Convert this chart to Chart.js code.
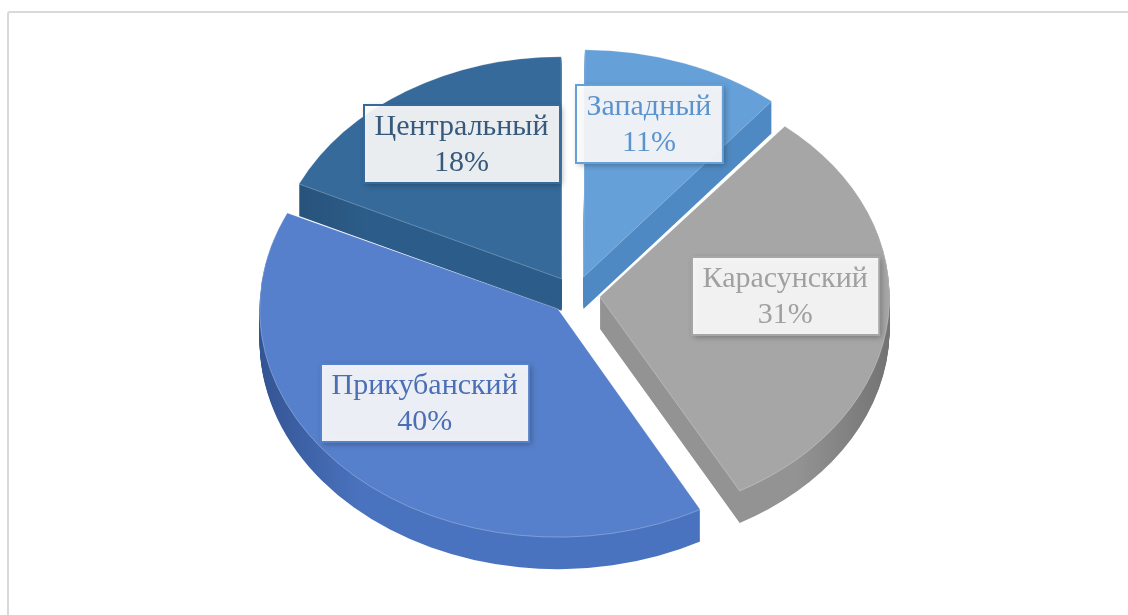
<!DOCTYPE html>
<html lang="ru">
<head>
  <meta charset="UTF-8">
  <title>Районы</title>
  <script src="https://cdn.jsdelivr.net/npm/chart.js"></script>
  <style>
    html, body {
      margin: 0;
      padding: 0;
      background: #fff;
      overflow: hidden;
    }
    .frame {
      position: absolute;
      left: 7px;
      top: 11px;
      width: 1200px;
      height: 700px;
      border: 2px solid #d9d9d9;
      border-radius: 3px;
    }
    .wrap {
      position: absolute;
      left: 0;
      top: 0;
      width: 1128px;
      height: 615px;
    }
  </style>
</head>
<body>
  <div class="frame"></div>
  <div class="wrap"><canvas id="pie"></canvas></div>

  <script>
    const regions = ['Западный', 'Карасунский', 'Прикубанский', 'Центральный'];
    const shares = [11, 31, 40, 18];

    const topColors = ['#65a0d8', '#a6a6a6', '#5680cb', '#356a9b'];
    const sideColors = ['#4f89c3', '#939393', '#4a73bf', '#2c5c89'];
    const edgeColors = ['#3a6fa6', '#666666', '#2d4b86', '#23496d'];
    const textColors = ['#5b93cf', '#a0a0a0', '#4a6fb6', '#37597b'];

    // disc geometry on screen
    const TILT = 0.765;
    const DEPTH = 32;
    const CENTER_Y = 295;
    const LABEL_RADIUS = 0.64;
    const LABEL_LIFT = 14;

    // how far Chart.js pushes an exploded arc out (same formula as ArcElement.draw)
    function explodeShift(offset, circumference) {
      return (offset || 0) / 4 * (2 - Math.sin(Math.min(Math.PI, circumference)));
    }

    function wallGradient(ctx, arc, i) {
      const r = arc.outerRadius + 40;
      const g = ctx.createLinearGradient(arc.x - r, 0, arc.x + r, 0);
      g.addColorStop(0, edgeColors[i]);
      g.addColorStop(0.2, sideColors[i]);
      g.addColorStop(0.8, sideColors[i]);
      g.addColorStop(1, edgeColors[i]);
      return g;
    }

    function drawLabels(chart) {
      const ctx = chart.ctx;
      const arcs = chart.getDatasetMeta(0).data;
      const total = shares.reduce((a, b) => a + b, 0);
      ctx.save();
      ctx.font = '30px "Liberation Serif", "Times New Roman", serif';
      ctx.textAlign = 'center';
      ctx.textBaseline = 'middle';
      arcs.forEach((arc, i) => {
        const p = arc.getProps(['x', 'y', 'startAngle', 'endAngle', 'outerRadius', 'circumference']);
        const mid = (p.startAngle + p.endAngle) / 2;
        const dist = p.outerRadius * LABEL_RADIUS + explodeShift(arc.options.offset, p.circumference);
        const lx = p.x + Math.cos(mid) * dist;
        const ly = CENTER_Y + TILT * Math.sin(mid) * dist - LABEL_LIFT;
        const lines = [regions[i], Math.round(shares[i] / total * 100) + '%'];
        const w = Math.max(...lines.map(t => ctx.measureText(t).width)) + 22;
        const h = 78;
        const bx = Math.round(lx - w / 2);
        const by = Math.round(ly - h / 2);

        ctx.save();
        ctx.shadowColor = 'rgba(0, 0, 0, 0.35)';
        ctx.shadowBlur = 6;
        ctx.shadowOffsetX = 2;
        ctx.shadowOffsetY = 2;
        ctx.fillStyle = 'rgba(255, 255, 255, 0.9)';
        ctx.fillRect(bx, by, w, h);
        ctx.restore();
        ctx.strokeStyle = topColors[i];
        ctx.lineWidth = 2;
        ctx.strokeRect(bx, by, w, h);

        ctx.fillStyle = textColors[i];
        ctx.fillText(lines[0], lx, ly - 17);
        ctx.fillText(lines[1], lx, ly + 19);
      });
      ctx.restore();
    }

    // squash the pie into a tilted disc and give it thickness
    const tiltPlugin = {
      id: 'tilt',
      beforeDatasetsDraw(chart) {
        const ctx = chart.ctx;
        const arcs = chart.getDatasetMeta(0).data;
        const c = arcs[0];
        ctx.save();
        ctx.translate(c.x, CENTER_Y);
        ctx.scale(1, TILT);
        ctx.translate(-c.x, -c.y);

        const walls = arcs.map((arc, i) => {
          const wall = Object.create(arc);
          wall.options = Object.assign({}, arc.options, {
            backgroundColor: wallGradient(ctx, arc, i),
            borderWidth: 0
          });
          return wall;
        });
        for (let d = DEPTH; d >= 1; d--) {
          ctx.save();
          ctx.translate(0, d / TILT);
          walls.forEach(w => w.draw(ctx));
          ctx.restore();
        }
      },
      afterDatasetsDraw(chart) {
        chart.ctx.restore();
        drawLabels(chart);
      }
    };

    new Chart(document.getElementById('pie'), {
      type: 'pie',
      data: {
        labels: regions,
        datasets: [{
          data: shares,
          backgroundColor: topColors,
          borderColor: 'rgba(255, 255, 255, 0.3)',
          borderWidth: 1,
          offset: 100,
          hoverOffset: 0,
          clip: 1000
        }]
      },
      options: {
        responsive: true,
        maintainAspectRatio: false,
        animation: false,
        events: [],
        radius: 288,
        layout: { padding: { left: 22 } },
        plugins: {
          legend: { display: false },
          tooltip: { enabled: false }
        }
      },
      plugins: [tiltPlugin]
    });
  </script>
</body>
</html>
